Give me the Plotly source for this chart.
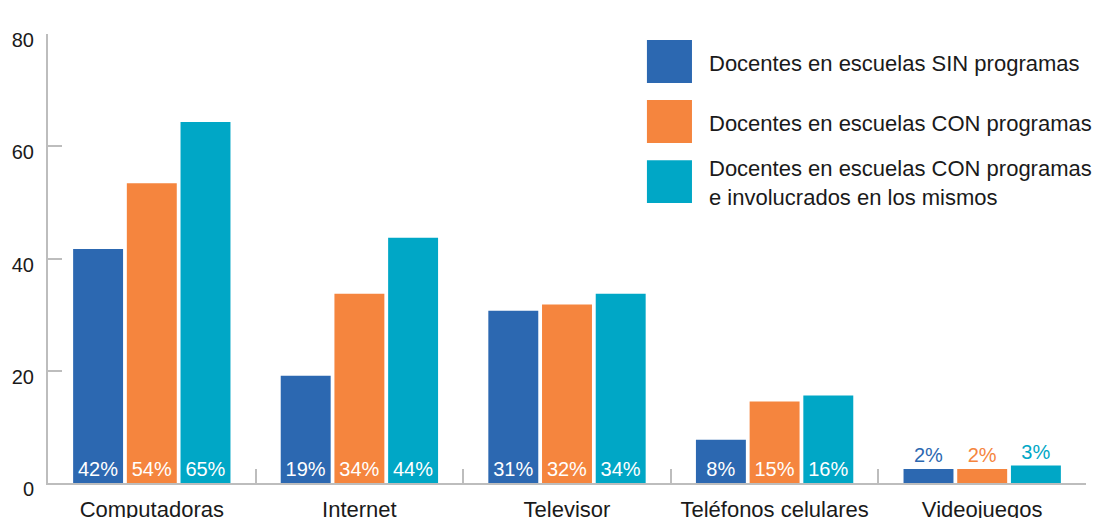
import plotly.graph_objects as go

categories = ["Computadoras", "Internet", "Televisor", "Teléfonos celulares", "Videojuegos"]
series_names = [
    "Docentes en escuelas SIN programas",
    "Docentes en escuelas CON programas",
    "Docentes en escuelas CON programas<br>e involucrados en los mismos",
]
# bar heights
sin_vals = [41.7, 19.1, 30.7, 7.7, 2.5]
con_vals = [53.4, 33.7, 31.8, 14.5, 2.5]
inv_vals = [64.3, 43.7, 33.7, 15.6, 3.1]
# printed labels
sin_pct = [42, 19, 31, 8, 2]
con_pct = [54, 34, 32, 15, 2]
inv_pct = [65, 44, 34, 16, 3]
y_ticks = [0, 20, 40, 60, 80]

colors = ["#2C68B1", "#F5853E", "#00A7C6"]
FONT = "Liberation Sans"

fig = go.Figure()
outside_cats = {"Videojuegos"}
for name, vals, pcts, col in zip(series_names, [sin_vals, con_vals, inv_vals],
                                 [sin_pct, con_pct, inv_pct], colors):
    positions = ["outside" if c in outside_cats else "inside" for c in categories]
    tcolors = [col if c in outside_cats else "white" for c in categories]
    fig.add_trace(go.Bar(
        x=categories, y=vals, name=name,
        marker=dict(color=col, line=dict(width=0)),
        text=[f"{p}%" for p in pcts],
        textposition=positions,
        insidetextanchor="start",
        textfont=dict(color=tcolors, size=20, family=FONT),
        constraintext="none",
        cliponaxis=False,
        showlegend=False,
    ))

# custom legend (large swatches)
x0_sw, x1_sw, x_txt = 0.577, 0.6204, 0.6349
rows = [(0.9866, 0.8909), (0.853, 0.757), (0.719, 0.6236)]
for (ytop, ybot), name, col in zip(rows, series_names, colors):
    fig.add_shape(type="rect", xref="paper", yref="paper",
                  x0=x0_sw, x1=x1_sw, y0=ybot, y1=ytop,
                  fillcolor=col, line=dict(width=0))
    fig.add_annotation(xref="paper", yref="paper", x=x_txt, y=(ytop + ybot) / 2 - 0.004,
                       text=name, showarrow=False, xanchor="left", yanchor="middle",
                       align="left", font=dict(size=22, family=FONT, color="#1a1a1a"))

fig.update_layout(
    width=1094, height=518,
    margin=dict(l=48, r=8, t=34, b=35, autoexpand=False),
    paper_bgcolor="white", plot_bgcolor="white",
    barmode="group", bargap=0.224, bargroupgap=0.07,
    font=dict(family=FONT, color="#1a1a1a"),
)
fig.update_yaxes(
    range=[0, 80], tickvals=y_ticks, showgrid=False, zeroline=False,
    showline=True, linecolor="#BDBDBD", linewidth=2,
    ticks="inside", ticklen=14, tickcolor="#BDBDBD", tickwidth=2,
    tickfont=dict(size=20, family=FONT, color="#1a1a1a"),
    ticklabelstandoff=8, ticklabelshift=6, automargin=False,
)
fig.update_xaxes(
    showgrid=False, showline=True, linecolor="#BDBDBD", linewidth=2,
    ticks="inside", tickson="boundaries", ticklen=14, tickcolor="#BDBDBD", tickwidth=2,
    tickfont=dict(size=22, family=FONT, color="#1a1a1a"),
    ticklabelstandoff=6, automargin=False,
)

fig.write_html(
    "out.html",
    config={"displayModeBar": False},
    post_script="document.body.style.margin='0';document.body.style.padding='0';",
)
